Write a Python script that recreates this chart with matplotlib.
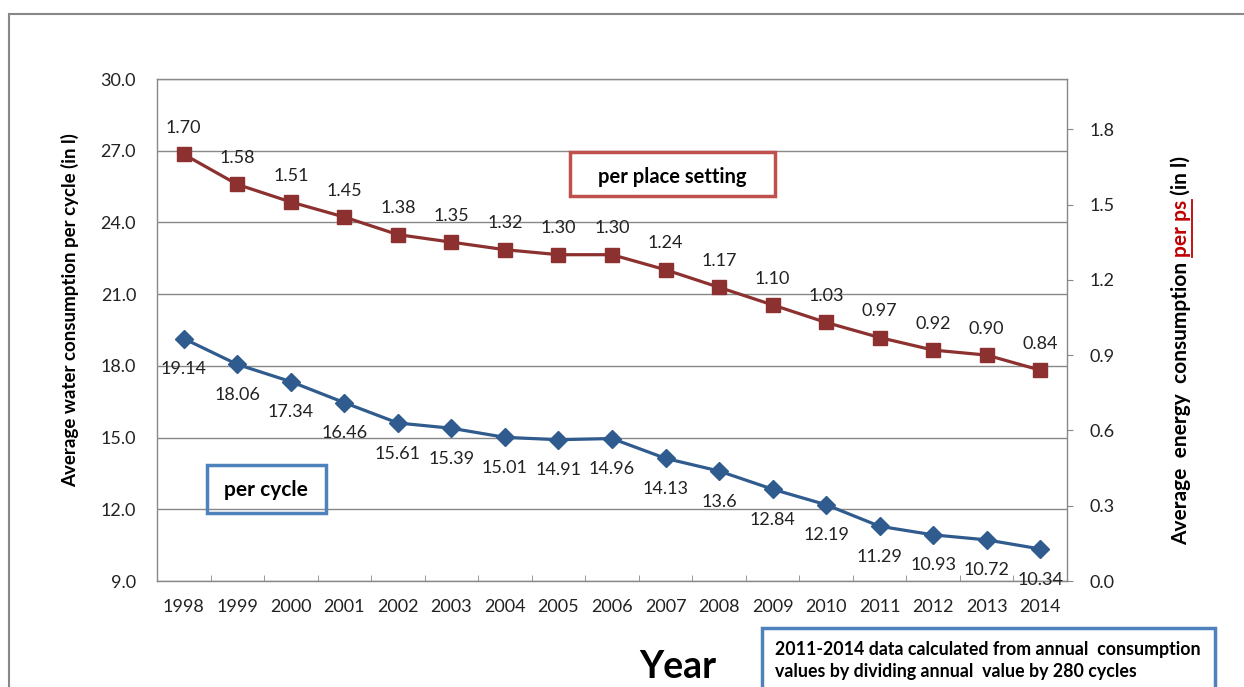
import matplotlib
matplotlib.use("Agg")
import matplotlib.pyplot as plt
from matplotlib.patches import Rectangle
from matplotlib.lines import Line2D
import numpy as np

plt.rcParams['font.family'] = ['Lato', 'DejaVu Sans']

# Yearly averages
years = [str(y) for y in range(1998, 2015)]
water_per_cycle = [19.14, 18.06, 17.34, 16.46, 15.61, 15.39, 15.01, 14.91, 14.96,
                   14.13, 13.6, 12.84, 12.19, 11.29, 10.93, 10.72, 10.34]
water_labels = ["19.14", "18.06", "17.34", "16.46", "15.61", "15.39", "15.01", "14.91",
                "14.96", "14.13", "13.6", "12.84", "12.19", "11.29", "10.93", "10.72", "10.34"]
per_ps = [1.70, 1.58, 1.51, 1.45, 1.38, 1.35, 1.32, 1.30, 1.30,
          1.24, 1.17, 1.10, 1.03, 0.97, 0.92, 0.90, 0.84]

left_ticks = [9.0, 12.0, 15.0, 18.0, 21.0, 24.0, 27.0, 30.0]
right_ticks = [0.0, 0.3, 0.6, 0.9, 1.2, 1.5, 1.8]

blue = '#2F5B8E'
red = '#8C3130'
grey = '#888888'
txt_col = '#222222'

W, H = 1244, 687
fig = plt.figure(figsize=(W / 100, H / 100), dpi=100)

# outer chart frame
fig.patches.append(Rectangle((9 / W, -0.1), 1.2, 1 - 14 / H + 0.1, transform=fig.transFigure,
                             fill=False, edgecolor=grey, linewidth=1.5))

ax = fig.add_axes([157 / W, 1 - 581 / H, 910 / W, 502 / H])
x = np.arange(len(years))

ax.plot(x, water_per_cycle, color=blue, linewidth=2.3, marker='D', markersize=9,
        markerfacecolor=blue, markeredgecolor=blue, zorder=3)
for xi, v, lab in zip(x, water_per_cycle, water_labels):
    ax.annotate(lab, (xi, v), xytext=(0, -22), textcoords='offset points',
                ha='center', va='center', fontsize=13, color=txt_col)

ax.set_xlim(-0.5, len(years) - 0.5)
ax.set_ylim(9.0, 30.0)
ax.set_yticks(left_ticks)
ax.set_yticklabels([f"{t:.1f}" for t in left_ticks], fontsize=13, color=txt_col)
ax.tick_params(axis='y', length=0, pad=15)
ax.set_xticks(x)
ax.set_xticklabels(years, fontsize=13, color=txt_col)
ax.set_xticks(x[:-1] + 0.5, minor=True)
ax.tick_params(axis='x', which='major', length=0, pad=13)
ax.tick_params(axis='x', which='minor', direction='in', length=4.5, color=grey)
ax.grid(axis='y', color=grey, linewidth=1)
ax.set_axisbelow(True)
for s in ax.spines.values():
    s.set_color(grey)
    s.set_linewidth(1)

ax2 = ax.twinx()
ax2.plot(x, per_ps, color=red, linewidth=2.3, marker='s', markersize=10,
         markerfacecolor=red, markeredgecolor=red, zorder=3)
for xi, v in zip(x, per_ps):
    ax2.annotate(f"{v:.2f}", (xi, v), xytext=(0, 19), textcoords='offset points',
                 ha='center', va='center', fontsize=13, color=txt_col)
ax2.set_ylim(0.0, 2.0)
ax2.set_yticks(right_ticks)
ax2.set_yticklabels([f"{t:.1f}" for t in right_ticks], fontsize=13, color=txt_col)
ax2.tick_params(axis='y', direction='out', length=4, color=grey, pad=12)
for s in ax2.spines.values():
    s.set_visible(False)

# left axis title
fig.text(70 / W, 1 - 310 / H, "Average water consumption per cycle (in l)", rotation=90,
         ha='center', va='center', fontsize=13.5, fontweight='bold')

# right axis title, "per ps" in red and underlined
fig.canvas.draw()
renderer = fig.canvas.get_renderer()
parts = [("Average  energy  consumption ", 'black', False),
         ("per ps", '#C00000', True),
         (" (in l)", 'black', False)]
xr = 1181 / W
y_cur = 1 - 545 / H
for txt, col, under in parts:
    t = fig.text(xr, y_cur, txt, rotation=90, ha='center', va='bottom',
                 fontsize=15, fontweight='bold', color=col)
    bb = t.get_window_extent(renderer).transformed(fig.transFigure.inverted())
    if under:
        fig.add_artist(Line2D([bb.x1 + 1 / W, bb.x1 + 1 / W], [bb.y0, bb.y1],
                              transform=fig.transFigure, color=col, linewidth=1.3))
    y_cur = bb.y1

# series captions
fig.patches.append(Rectangle((570 / W, 1 - 196 / H), 205 / W, 44 / H, transform=fig.transFigure,
                             fill=False, edgecolor='#C0504D', linewidth=2.5))
fig.text(672 / W, 1 - 177 / H, "per place setting", ha='center', va='center',
         fontsize=14.5, fontweight='bold')
fig.patches.append(Rectangle((207 / W, 1 - 513 / H), 119 / W, 48 / H, transform=fig.transFigure,
                             fill=False, edgecolor='#4F81BD', linewidth=2.5))
fig.text(266 / W, 1 - 490 / H, "per cycle", ha='center', va='center',
         fontsize=15, fontweight='bold')

fig.text(678 / W, 1 - 667 / H, "Year", ha='center', va='center',
         fontsize=27, fontweight='bold')

# note box
fig.patches.append(Rectangle((762 / W, -0.05), 453 / W, 0.05 + 1 - 628 / H,
                             transform=fig.transFigure, fill=False,
                             edgecolor='#4F81BD', linewidth=2.5))
fig.text(775 / W, 1 - 650 / H, "2011-2014 data calculated from annual  consumption",
         ha='left', va='center', fontsize=12.8, fontweight='bold')
fig.text(775 / W, 1 - 672 / H, "values by dividing annual  value by 280 cycles",
         ha='left', va='center', fontsize=12.8, fontweight='bold')

fig.savefig("out.png", dpi=100)
